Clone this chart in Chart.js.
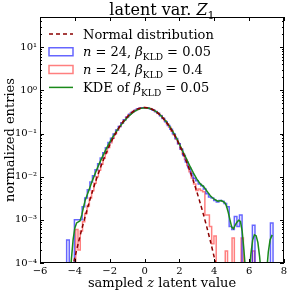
<!DOCTYPE html>
<html>
<head>
<meta charset="utf-8">
<script src="https://cdn.jsdelivr.net/npm/chart.js@4.4.0/dist/chart.umd.min.js"></script>
<style>
    html, body { margin: 0; padding: 0; background: #fff; }
</style>
</head>
<body>
<canvas id="latentChart" width="291" height="294"></canvas>
<script>
// histogram n=24, beta=0.05 (bins of equal width)
const blueStart = -4.47;
const blueWidth = 0.148;
const blueValues = [
    3.4e-4, 0, 0, 1.0e-3, 1.0e-3, 1.0e-3, 2.0e-3, 3.2e-3, 5.0e-3, 7.5e-3,
    0.0105, 0.0145, 0.020, 0.027, 0.036, 0.047, 0.062, 0.078, 0.097, 0.120,
    0.145, 0.175, 0.208, 0.242, 0.278, 0.312, 0.342, 0.368, 0.386, 0.395,
    0.396, 0.390, 0.375, 0.352, 0.325, 0.294, 0.258, 0.222, 0.187, 0.154,
    0.125, 0.099, 0.077, 0.058, 0.043, 0.031, 0.022, 0.0160, 0.0118, 0.0092,
    0.0080, 0.0068, 0.0062, 0.0052, 0.0040, 0.0034, 0.0032, 0.0028, 0.0026, 0.0028,
    0.0027, 0.0024, 0.0020, 0.0007, 0.0006, 0.0012, 0.0007, 0.0013, 0, 0,
    0, 0, 0.00075, 0, 0, 0, 0, 0, 0, 0.00085
];

// histogram n=24, beta=0.4
const redStart = -3.95;
const redWidth = 0.13;
const redValues = [
    6e-4, 2e-4, 5.5e-4, 9e-4, 1.4e-3, 2.1e-3, 3.2e-3, 4.7e-3, 7.0e-3, 0.0100,
    0.0140, 0.0195, 0.0267, 0.0358, 0.0472, 0.0612, 0.0780, 0.0982, 0.121, 0.146,
    0.174, 0.204, 0.236, 0.267, 0.297, 0.326, 0.351, 0.372, 0.387, 0.396,
    0.399, 0.395, 0.384, 0.367, 0.345, 0.319, 0.291, 0.260, 0.229, 0.198,
    0.168, 0.140, 0.115, 0.093, 0.074, 0.058, 0.0445, 0.0335, 0.0250, 0.0182,
    0.0130, 0.0093, 0.0068, 0.0048, 0.0052, 0.0048, 0.0045, 0.0013, 0.0013, 0.0007,
    0.00028, 0.00042, 0, 0, 0, 0, 0.00019, 0, 0, 0.00038,
    0, 0, 0, 0.00038, 0, 0, 0, 0, 0.00019, 0
];

// KDE of beta=0.05
const kdeX = [
    -4.4, -4.3, -4.2, -4.1, -4.0, -3.9, -3.8, -3.7, -3.6, -3.5, -3.4, -3.2, -3.0,
    -2.8, -2.6, -2.4, -2.2, -2.0, -1.8, -1.6, -1.4, -1.2, -1.0, -0.8, -0.6, -0.4, -0.2,
    0.0, 0.2, 0.4, 0.6, 0.8, 1.0, 1.2, 1.4, 1.6, 1.8, 2.0, 2.2, 2.4, 2.6, 2.8,
    3.0, 3.2, 3.4, 3.6, 3.8, 4.0, 4.2, 4.4, 4.6, 4.7, 4.8, 4.9, 5.0, 5.1, 5.2,
    5.3, 5.4, 5.5, 5.6, 5.7, 5.8, 5.9, 6.0, 6.1, 6.2, 6.3, 6.4, 6.5, 6.6, 6.7,
    6.8, 6.9, 7.0, 7.1, 7.2, 7.3, 7.35
];
const kdeY = [
    2e-5, 4e-5, 1.2e-4, 3.5e-4, 6.5e-4, 8.5e-4, 9.0e-4, 9.5e-4, 1.3e-3, 2.0e-3, 2.9e-3, 4.8e-3, 8.0e-3,
    0.0128, 0.020, 0.030, 0.044, 0.062, 0.086, 0.114, 0.148, 0.187, 0.232, 0.277, 0.320, 0.356, 0.382,
    0.394, 0.389, 0.368, 0.334, 0.292, 0.245, 0.198, 0.154, 0.115, 0.082, 0.057, 0.038, 0.026, 0.0175, 0.0122,
    0.0088, 0.0068, 0.0058, 0.0045, 0.0035, 0.0030, 0.0027, 0.0028, 0.0025, 0.0021, 0.0015, 0.0010, 0.00068, 0.00062, 0.00075,
    0.00088, 0.00098, 0.00092, 0.00055, 0.00020, 0.00006, 0.00002, 0.00005, 0.00016, 0.00034, 0.00045, 0.00043, 0.00030, 0.00014, 0.00005,
    0.00002, 0.00002, 0.00006, 0.00018, 0.00034, 0.00043, 0.00042
];

// normal distribution curve
const normalX = [
    -4.4, -4.2, -4.0, -3.8, -3.6, -3.4, -3.2, -3.0, -2.8, -2.6, -2.4, -2.2, -2.0,
    -1.8, -1.6, -1.4, -1.2, -1.0, -0.8, -0.6, -0.4, -0.2, 0.0, 0.2, 0.4, 0.6,
    0.8, 1.0, 1.2, 1.4, 1.6, 1.8, 2.0, 2.2, 2.4, 2.6, 2.8, 3.0, 3.2, 3.4, 3.6,
    3.8, 4.0, 4.2, 4.4
];
const normalY = [
    2.5e-5, 5.89e-5, 1.34e-4, 2.92e-4, 6.12e-4, 1.232e-3, 2.384e-3, 4.432e-3, 7.915e-3, 0.01358, 0.02239, 0.03547, 0.05399,
    0.07895, 0.1109, 0.1497, 0.1942, 0.2420, 0.2897, 0.3332, 0.3683, 0.3910, 0.3989, 0.3910, 0.3683, 0.3332,
    0.2897, 0.2420, 0.1942, 0.1497, 0.1109, 0.07895, 0.05399, 0.03547, 0.02239, 0.01358, 0.007915, 0.004432, 0.002384, 0.001232, 6.12e-4,
    2.92e-4, 1.34e-4, 5.89e-5, 2.5e-5
];

const xTicks = [-6, -4, -2, 0, 2, 4, 6, 8];
const yTicks = [1e-4, 1e-3, 1e-2, 1e-1, 1, 10];

const FONT = "'DejaVu Serif', serif";
const BLUE = "rgba(0,0,255,0.6)";
const RED = "rgba(255,0,0,0.5)";
const GREEN = "#1a8a1a";
const DARKRED = "#8b0000";

// empty bins sit far below the log axis, like matplotlib clipping
const LOG_FLOOR = 1e-7;

function histPoints(start, width, values) {
    const pts = [{ x: start, y: LOG_FLOOR }];
    values.forEach((v, i) => pts.push({ x: start + i * width, y: v > 0 ? v : LOG_FLOOR }));
    pts.push({ x: start + values.length * width, y: LOG_FLOOR });
    return pts;
}

function xyPoints(xs, ys) {
    return xs.map((x, i) => ({ x: x, y: ys[i] }));
}

const supMap = { "-": "\u207B", "0": "\u2070", "1": "\u00B9", "2": "\u00B2", "3": "\u00B3", "4": "\u2074" };

// mixed roman / italic / subscript text
function drawRich(ctx, parts, x, y, size, align) {
    const fontFor = p =>
        (p.it ? "italic " : "") + (p.sub ? size * 0.7 : size) + "px " + FONT;
    let total = 0;
    parts.forEach(p => {
        ctx.font = fontFor(p);
        p.w = ctx.measureText(p.t).width;
        total += p.w;
    });
    let cx = align === "center" ? x - total / 2 : x;
    parts.forEach(p => {
        ctx.font = fontFor(p);
        ctx.fillText(p.t, cx, y + (p.sub ? size * 0.28 : 0));
        cx += p.w;
    });
}

const decorations = {
    id: "decorations",
    afterDraw(chart) {
        const ctx = chart.ctx;
        const a = chart.chartArea;
        const xs = chart.scales.x;
        const ys = chart.scales.y;

        ctx.save();

        // inward ticks on all four sides
        ctx.strokeStyle = "#000";
        ctx.lineWidth = 1;
        ctx.beginPath();
        xTicks.forEach(t => {
            const px = Math.round(xs.getPixelForValue(t)) + 0.5;
            ctx.moveTo(px, a.bottom);
            ctx.lineTo(px, a.bottom - 4);
            ctx.moveTo(px, a.top);
            ctx.lineTo(px, a.top + 4);
        });
        for (let e = -4; e <= 1; e++) {
            for (let m = 1; m <= 9; m++) {
                const v = m * Math.pow(10, e);
                if (v > ys.max) break;
                const py = Math.round(ys.getPixelForValue(v)) + 0.5;
                const len = m === 1 ? 4 : 2;
                ctx.moveTo(a.left, py);
                ctx.lineTo(a.left + len, py);
                ctx.moveTo(a.right, py);
                ctx.lineTo(a.right - len, py);
            }
        }
        ctx.stroke();
        ctx.strokeRect(a.left + 0.5, a.top + 0.5, a.right - a.left - 1, a.bottom - a.top - 1);

        // title and axis labels
        ctx.fillStyle = "#000";
        ctx.textBaseline = "alphabetic";
        const cx = (a.left + a.right) / 2;
        drawRich(ctx, [{ t: "latent var. " }, { t: "Z", it: true }, { t: "1", sub: true }], cx, 15, 16, "center");
        drawRich(ctx, [{ t: "sampled " }, { t: "z", it: true }, { t: " latent value" }], cx, 287, 13, "center");
        ctx.save();
        ctx.translate(14, (a.top + a.bottom) / 2);
        ctx.rotate(-Math.PI / 2);
        drawRich(ctx, [{ t: "normalized entries" }], 0, 0, 13, "center");
        ctx.restore();

        // legend
        const rows = [
            { kind: "dash", color: DARKRED, text: [{ t: "Normal distribution" }] },
            { kind: "box", color: BLUE, text: [{ t: "n", it: true }, { t: " = 24, " }, { t: "\u03B2", it: true }, { t: "KLD", sub: true }, { t: " = 0.05" }] },
            { kind: "box", color: RED, text: [{ t: "n", it: true }, { t: " = 24, " }, { t: "\u03B2", it: true }, { t: "KLD", sub: true }, { t: " = 0.4" }] },
            { kind: "line", color: GREEN, text: [{ t: "KDE of " }, { t: "\u03B2", it: true }, { t: "KLD", sub: true }, { t: " = 0.05" }] }
        ];
        const sx0 = a.left + 9;
        const sx1 = a.left + 33;
        rows.forEach((r, i) => {
            const yy = a.top + 17 + i * 17.8;
            ctx.strokeStyle = r.color;
            ctx.lineWidth = 1.5;
            ctx.setLineDash(r.kind === "dash" ? [4, 3] : []);
            ctx.beginPath();
            if (r.kind === "box") {
                ctx.rect(sx0, yy - 4, sx1 - sx0, 8);
            } else {
                ctx.moveTo(sx0, yy);
                ctx.lineTo(sx1, yy);
            }
            ctx.stroke();
            ctx.setLineDash([]);
            ctx.fillStyle = "#000";
            drawRich(ctx, r.text, a.left + 43, yy + 4.5, 13, "left");
        });

        ctx.restore();
    }
};

const noClip = { left: 0, top: 0, right: 0, bottom: -1 };

new Chart(document.getElementById("latentChart"), {
    type: "line",
    data: {
        datasets: [
            {
                label: "Normal distribution",
                data: xyPoints(normalX, normalY),
                borderColor: DARKRED,
                borderWidth: 1.5,
                borderDash: [4, 3],
                tension: 0.3,
                clip: noClip
            },
            {
                label: "KDE of beta 0.05",
                data: xyPoints(kdeX, kdeY),
                borderColor: GREEN,
                borderWidth: 1.5,
                clip: noClip
            },
            {
                label: "n=24, beta 0.05",
                data: histPoints(blueStart, blueWidth, blueValues),
                borderColor: BLUE,
                borderWidth: 1.5,
                stepped: true,
                clip: noClip
            },
            {
                label: "n=24, beta 0.4",
                data: histPoints(redStart, redWidth, redValues),
                borderColor: RED,
                borderWidth: 1.5,
                stepped: true,
                clip: noClip
            }
        ]
    },
    options: {
        responsive: false,
        animation: false,
        layout: { padding: { top: 17, right: 7, left: 0, bottom: 0 } },
        elements: { point: { radius: 0 }, line: { fill: false } },
        plugins: {
            legend: { display: false },
            title: { display: false },
            tooltip: { enabled: false }
        },
        scales: {
            x: {
                type: "linear",
                min: -6,
                max: 8,
                afterBuildTicks: s => { s.ticks = xTicks.map(v => ({ value: v })); },
                afterFit: s => { s.height = 31; },
                grid: { display: false, drawTicks: false },
                border: { display: false },
                ticks: {
                    padding: 2,
                    maxRotation: 0,
                    color: "#000",
                    font: { family: FONT, size: 10 },
                    callback: v => String(v).replace("-", "\u2212")
                }
            },
            y: {
                type: "logarithmic",
                min: 1e-4,
                max: 50,
                afterBuildTicks: s => { s.ticks = yTicks.map(v => ({ value: v })); },
                afterFit: s => { s.width = 40; },
                grid: { display: false, drawTicks: false },
                border: { display: false },
                ticks: {
                    padding: 3,
                    color: "#000",
                    font: { family: FONT, size: 10 },
                    callback: v => "10" + String(Math.round(Math.log10(v))).split("").map(c => supMap[c]).join("")
                }
            }
        }
    },
    plugins: [decorations]
});
</script>
</body>
</html>
